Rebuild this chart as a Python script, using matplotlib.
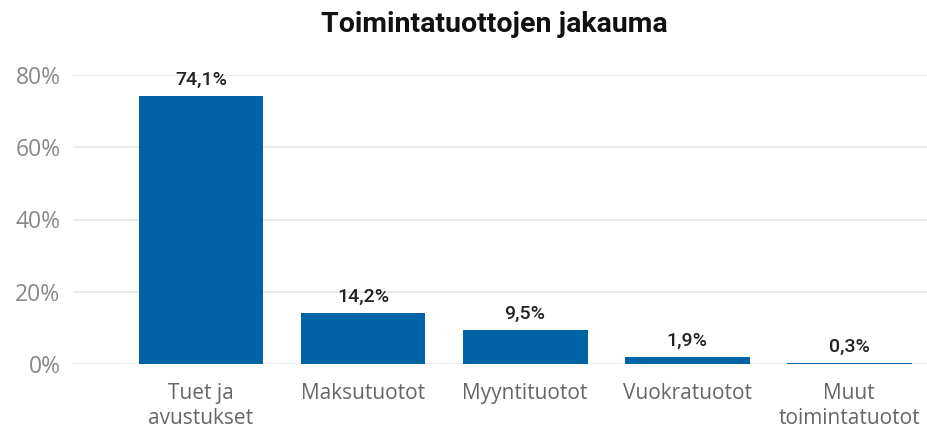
import matplotlib
matplotlib.use("Agg")
import matplotlib.pyplot as plt
from matplotlib.ticker import FuncFormatter

categories = ["Tuet ja\navustukset", "Maksutuotot", "Myyntituotot", "Vuokratuotot", "Muut\ntoimintatuotot"]
values = [74.1, 14.2, 9.5, 1.9, 0.3]
yticks = [0, 20, 40, 60, 80]
title = "Toimintatuottojen jakauma"

bar_color = "#0063A6"

fig = plt.figure(figsize=(9.27, 4.32), dpi=100)
ax = fig.add_axes([73/927, 1-364/432, (927-73)/927, (364-75)/432])

x = list(range(len(categories)))
ax.bar(x, values, width=0.77, color=bar_color, zorder=3)

ax.set_ylim(0, 80)
ax.set_xlim(-0.79, 4.48)
ax.set_yticks(yticks)
ax.yaxis.set_major_formatter(FuncFormatter(lambda v, p: f"{int(v)}%"))
ax.grid(axis="y", color="#e8e8e8", linewidth=1.2, zorder=0)
ax.set_axisbelow(True)
for s in ax.spines.values():
    s.set_visible(False)
ax.tick_params(axis="both", length=0)
ax.tick_params(axis="y", labelsize=16.5, labelcolor="#888888", pad=9)
ax.set_xticks(x)
ax.set_xticklabels(categories, fontsize=15, color="#666666", linespacing=1.25)
ax.tick_params(axis="x", pad=14)
for lbl in ax.get_xticklabels() + ax.get_yticklabels():
    lbl.set_family(["Open Sans", "DejaVu Sans"])

for xi, v in zip(x, values):
    ax.annotate(f"{v:.1f}%".replace(".", ","), (xi, v), xytext=(0, 5), textcoords="offset points",
                ha="center", va="bottom", fontsize=14, color="#222222",
                family=["Roboto", "DejaVu Sans"], fontweight="medium",
                annotation_clip=False)

fig.text(494/927, 1-25/432, title, ha="center", va="center", fontsize=20.5, fontweight="bold",
         color="#111111", family=["Roboto", "DejaVu Sans"])

fig.savefig("out.png", dpi=100, facecolor="white")
